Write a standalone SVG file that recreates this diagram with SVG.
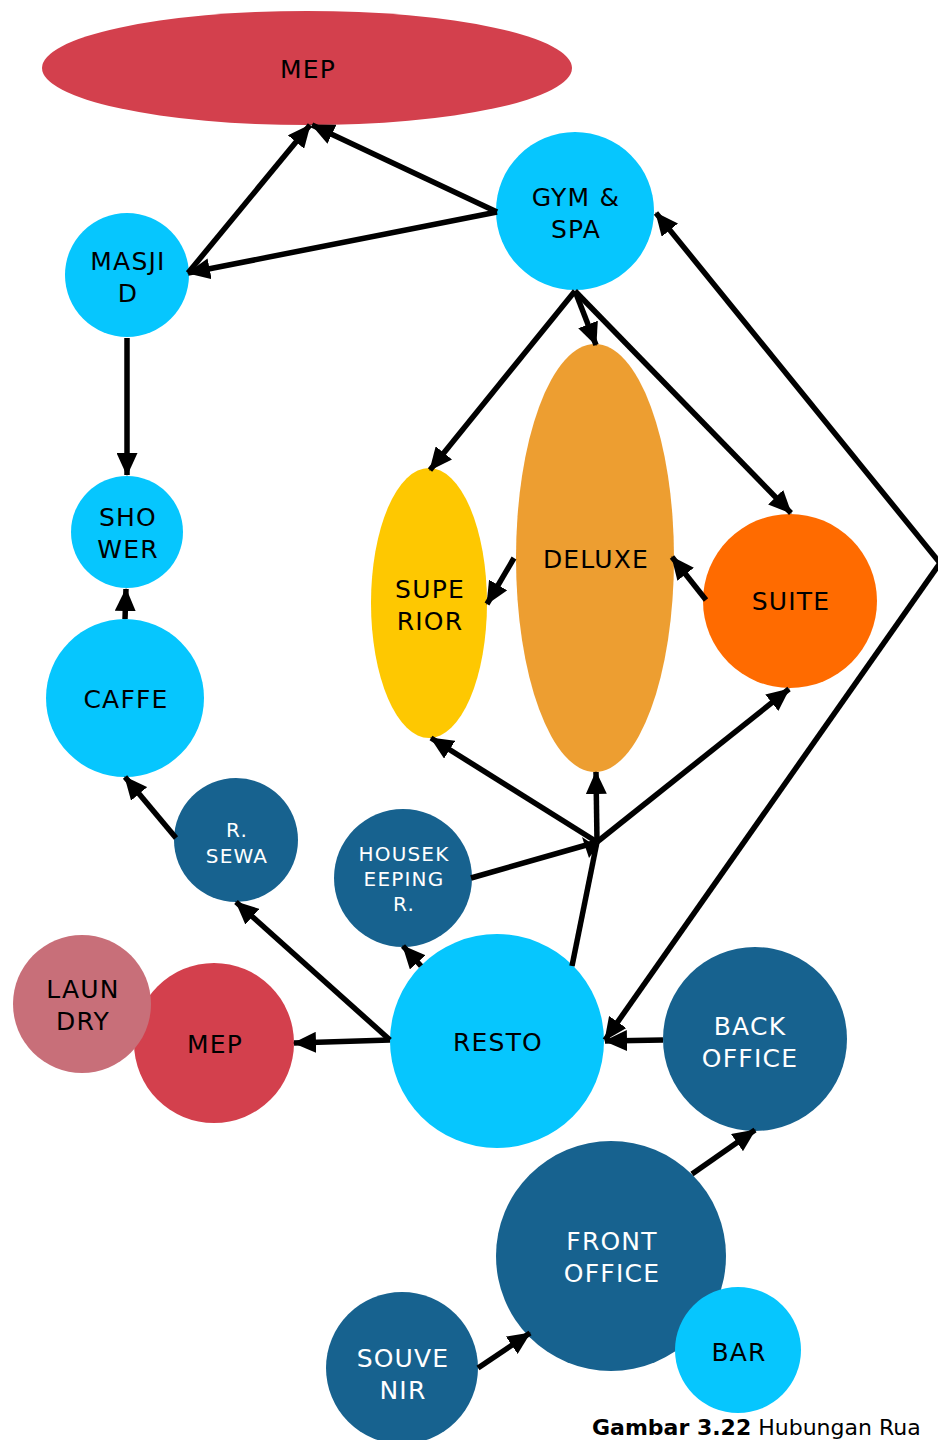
<svg xmlns="http://www.w3.org/2000/svg" width="938" height="1440" viewBox="0 0 938 1440">
<defs>
<marker id="ah" markerUnits="userSpaceOnUse" markerWidth="23" markerHeight="21" refX="22" refY="10.5" orient="auto" viewBox="0 0 23 21">
<path d="M0,0 L23,10.5 L0,21 z" fill="#000"/>
</marker>
</defs>
<style>
.cy{fill:#06C6FE}
.db{fill:#17628F}
.rd{fill:#D3404D}
.ln{fill:#C86F79}
.yl{fill:#FEC801}
.dx{fill:#ED9E31}
.su{fill:#FF6B00}
text{font-family:"DejaVu Sans","Liberation Sans",sans-serif;text-anchor:middle}
.t{font-size:25px;fill:#000;letter-spacing:1.2px}
.w{font-size:25px;fill:#fff;letter-spacing:1.2px}
.ws{font-size:20px;fill:#fff;letter-spacing:1.2px}
.c{stroke:#000;stroke-width:5.5;fill:none;marker-end:url(#ah)}
.p{stroke:#000;stroke-width:5.5;fill:none}
</style>
<rect width="938" height="1440" fill="#fff"/>
<g id="nodes">
<g id="mep-top"><ellipse cx="307" cy="68" rx="265" ry="57" class="rd"/><text x="308" y="78" class="t">MEP</text></g>
<g id="gym"><circle cx="575" cy="211" r="79" class="cy"/><text x="576" y="206" class="t">GYM &amp;</text><text x="576" y="238" class="t">SPA</text></g>
<g id="masjid"><circle cx="127" cy="275" r="62" class="cy"/><text x="128" y="270" class="t">MASJI</text><text x="128" y="302" class="t">D</text></g>
<g id="shower"><circle cx="127" cy="532" r="56" class="cy"/><text x="128" y="526" class="t">SHO</text><text x="128" y="558" class="t">WER</text></g>
<g id="caffe"><circle cx="125" cy="698" r="79" class="cy"/><text x="126" y="708" class="t">CAFFE</text></g>
<g id="superior"><ellipse cx="429" cy="603" rx="58" ry="135" class="yl"/><text x="430" y="598" class="t">SUPE</text><text x="430" y="630" class="t">RIOR</text></g>
<g id="deluxe"><ellipse cx="595" cy="558" rx="79" ry="214" class="dx"/><text x="596" y="568" class="t">DELUXE</text></g>
<g id="suite"><circle cx="790" cy="601" r="87" class="su"/><text x="791" y="610" class="t">SUITE</text></g>
<g id="rsewa"><circle cx="236" cy="840" r="62" class="db"/><text x="237" y="837" class="ws">R.</text><text x="237" y="863" class="ws">SEWA</text></g>
<g id="housekeeping"><circle cx="403" cy="878" r="69" class="db"/><text x="404" y="861" class="ws">HOUSEK</text><text x="404" y="886" class="ws">EEPING</text><text x="404" y="911" class="ws">R.</text></g>
<g id="mep-bottom"><circle cx="214" cy="1043" r="80" class="rd"/><text x="215" y="1053" class="t">MEP</text></g>
<g id="laundry"><circle cx="82" cy="1004" r="69" class="ln"/><text x="83" y="998" class="t">LAUN</text><text x="83" y="1030" class="t">DRY</text></g>
<g id="resto"><circle cx="497" cy="1041" r="107" class="cy"/><text x="498" y="1051" class="t">RESTO</text></g>
<g id="backoffice"><circle cx="755" cy="1039" r="92" class="db"/><text x="750" y="1035" class="w">BACK</text><text x="750" y="1067" class="w">OFFICE</text></g>
<g id="frontoffice"><circle cx="611" cy="1256" r="115" class="db"/><text x="612" y="1250" class="w">FRONT</text><text x="612" y="1282" class="w">OFFICE</text></g>
<g id="bar"><circle cx="738" cy="1350" r="63" class="cy"/><text x="739" y="1361" class="t">BAR</text></g>
<g id="souvenir"><circle cx="402" cy="1368" r="76" class="db"/><text x="403" y="1367" class="w">SOUVE</text><text x="403" y="1399" class="w">NIR</text></g>
</g>
<g id="connectors">
<line x1="188" y1="273" x2="310" y2="125" class="c"/>
<line x1="497" y1="212" x2="312" y2="125" class="c"/>
<line x1="497" y1="212" x2="188" y2="273" class="c"/>
<line x1="127" y1="338" x2="127" y2="475" class="c"/>
<line x1="125" y1="619" x2="126" y2="589" class="c"/>
<line x1="176" y1="838" x2="125" y2="777" class="c"/>
<line x1="390" y1="1040" x2="236" y2="902" class="c"/>
<line x1="390" y1="1040" x2="294" y2="1043" class="c"/>
<line x1="421" y1="966" x2="403" y2="946" class="c"/>
<line x1="663" y1="1040" x2="605" y2="1041" class="c"/>
<line x1="692" y1="1174" x2="755" y2="1130" class="c"/>
<line x1="478" y1="1368" x2="530" y2="1333" class="c"/>
<line x1="572" y1="966" x2="597" y2="842" class="p"/>
<line x1="471" y1="878" x2="597" y2="842" class="p"/>
<line x1="597" y1="842" x2="431" y2="738" class="c"/>
<line x1="597" y1="842" x2="596" y2="772" class="c"/>
<line x1="597" y1="842" x2="789" y2="689" class="c"/>
<path d="M582,837 L597,847 L589,858 z" fill="#000"/>
<line x1="575" y1="291" x2="430" y2="470" class="c"/>
<line x1="575" y1="291" x2="596" y2="345" class="c"/>
<line x1="575" y1="291" x2="791" y2="513" class="c"/>
<line x1="514" y1="558" x2="487" y2="604" class="c"/>
<line x1="706" y1="600" x2="672" y2="557" class="c"/>
<polyline points="940,563 605,1040" class="c"/>
<polyline points="940,563 656,213" class="c"/>
</g>
<text x="592" y="1435" style="text-anchor:start;font-size:22px;fill:#000"><tspan font-weight="bold">Gambar 3.22</tspan> Hubungan Rua</text>
</svg>
